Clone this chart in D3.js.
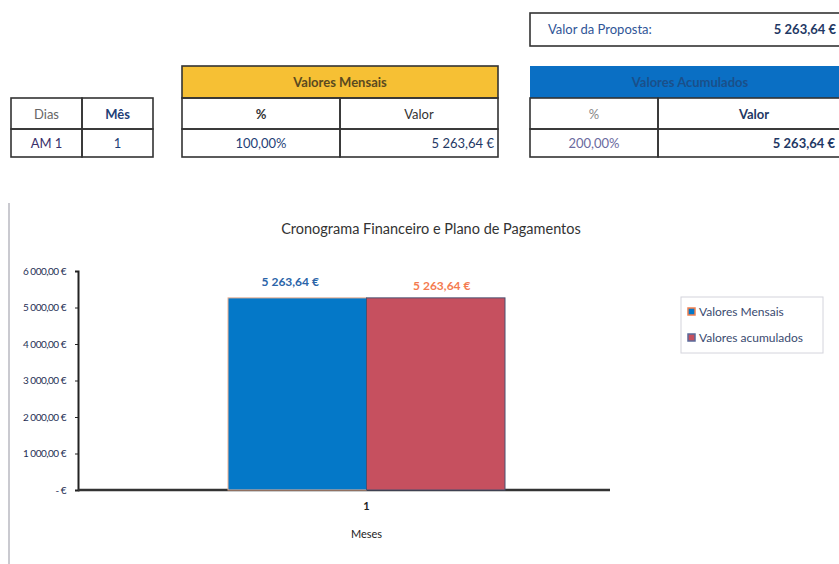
<!DOCTYPE html>
<html>
<head>
<meta charset="utf-8">
<script src="https://cdn.jsdelivr.net/npm/d3@7"></script>
<style>
  body { margin: 0; background: #fff; }
  svg text { font-family: Lato, "Open Sans", sans-serif; }
</style>
</head>
<body>
<div id="chart"></div>
<script>
// chart data
const meses = ["1"];
const series = ["Valores Mensais", "Valores acumulados"];
const valoresMensais = [5263.64];
const valoresAcumulados = [5263.64];
const yTicks = [0, 1000, 2000, 3000, 4000, 5000, 6000];

// table data
const propostaLabel = "Valor da Proposta:";
const propostaValor = "5 263,64 €";
const tabelaDias = [["Dias", "Mês"], ["AM  1", "1"]];
const tabelaMensais = [["%", "Valor"], ["100,00%", "5 263,64 €"]];
const tabelaAcum = [["%", "Valor"], ["200,00%", "5 263,64 €"]];

const W = 839, H = 564;
const svg = d3.select('#chart').append('svg')
    .attr('width', W)
    .attr('height', H);

const navy = '#1f3864';
const fmt = v => v === 0 ? '-   €' :
    d3.format(',.2f')(v).replace(/,/g, ' ').replace('.', ',') + ' €';

// ---------- top tables ----------
function cellBox(x, y, w, h) {
  svg.append('rect').attr('x', x).attr('y', y).attr('width', w).attr('height', h)
    .style('fill', 'none').style('stroke', '#333').style('stroke-width', 1.6);
}

// proposta box
cellBox(530, 13, 320, 33);
svg.append('text').attr('x', 548).attr('y', 34).text(propostaLabel)
  .style('font-size', '13px').style('fill', '#2f5597');
svg.append('text').attr('x', 836).attr('y', 34).attr('text-anchor', 'end').text(propostaValor)
  .style('font-size', '13px').style('font-weight', 'bold').style('fill', navy);

// section headers
svg.append('rect').attr('x', 182).attr('y', 66).attr('width', 316).attr('height', 32)
  .style('fill', '#f6c034').style('stroke', '#333').style('stroke-width', 1.6);
svg.append('text').attr('x', 340).attr('y', 87).attr('text-anchor', 'middle').text('Valores Mensais')
  .style('font-size', '13px').style('font-weight', 'bold').style('fill', '#5a4a20');
svg.append('rect').attr('x', 530).attr('y', 66).attr('width', 320).attr('height', 32)
  .style('fill', '#0a6fc4');
svg.append('text').attr('x', 690).attr('y', 87).attr('text-anchor', 'middle').text('Valores Acumulados')
  .style('font-size', '13px').style('font-weight', 'bold').style('fill', '#1a4f8a');

function table(rows, cols, opts) {
  const rowY = [98, 129, 157];
  rows.forEach((row, ri) => {
    row.forEach((txt, ci) => {
      const x = cols[ci], w = cols[ci + 1] - cols[ci];
      cellBox(x, rowY[ri], w, rowY[ri + 1] - rowY[ri]);
      const o = opts[ri][ci];
      svg.append('text')
        .attr('x', o.anchor === 'end' ? Math.min(x + w, 839) - 4 : x + w / 2)
        .attr('y', rowY[ri] + (rowY[ri + 1] - rowY[ri]) / 2 + 5)
        .attr('text-anchor', o.anchor || 'middle')
        .text(txt)
        .style('font-size', '13px')
        .style('font-weight', o.bold ? 'bold' : 'normal')
        .style('fill', o.color || navy);
    });
  });
}

table(tabelaDias, [11, 82, 153], [
  [{color: '#666'}, {bold: true, color: '#1f3f77'}],
  [{color: '#3a2f6a'}, {color: '#1f3f77'}]
]);
table(tabelaMensais, [182, 340, 498], [
  [{bold: true, color: '#333'}, {color: '#333'}],
  [{color: '#1f3f77'}, {anchor: 'end', color: navy}]
]);
table(tabelaAcum, [530, 658, 850], [
  [{color: '#888'}, {bold: true, color: navy}],
  [{color: '#6a6aa0'}, {anchor: 'end', bold: true, color: navy}]
]);

// ---------- chart ----------
// chart area border (left edge visible)
svg.append('line').attr('x1', 9).attr('x2', 9).attr('y1', 203).attr('y2', 564)
  .style('stroke', '#b8b8c0').style('stroke-width', 1.5);

svg.append('text').attr('x', 431).attr('y', 234).attr('text-anchor', 'middle')
  .text('Cronograma Financeiro e Plano de Pagamentos')
  .style('font-size', '14.5px').style('fill', '#333');

const plotL = 78, plotR = 610, plotT = 271, plotB = 490;

// the category band sits a bit right of the axis centre, as in the source chart
const x0 = d3.scaleBand().domain(meses).range([plotL, 655]).paddingInner(0).paddingOuter(0.5415);
const x1 = d3.scaleBand().domain(series).range([0, x0.bandwidth()]).padding(0);
const y = d3.scaleLinear().domain([0, 6000]).range([plotB, plotT]);

const yAxis = d3.axisLeft(y).tickValues(yTicks).tickFormat(fmt).tickSize(3).tickPadding(9);
const gy = svg.append('g').attr('transform', `translate(${plotL},0)`).call(yAxis);
gy.select('.domain').style('stroke', '#222').style('stroke-width', 2);
gy.selectAll('.tick line').style('stroke', '#222');
gy.selectAll('text').style('font-size', '10px').style('fill', '#1f2f55')
  .style('letter-spacing', '-0.5px')
  .style('font-family', 'Lato, "Open Sans", sans-serif');

const xAxis = d3.axisBottom(x0).tickSize(0).tickPadding(12);
const gx = svg.append('g').attr('transform', `translate(0,${plotB})`).call(xAxis);
gx.select('.domain').remove();
gx.append('line').attr('x1', plotL).attr('x2', plotR).attr('y1', 0).attr('y2', 0)
  .style('stroke', '#333').style('stroke-width', 2.5);
gx.selectAll('text').style('font-size', '11px').style('fill', '#222').style('font-weight', 'bold');

svg.append('text').attr('x', x0('1') + x0.bandwidth() / 2).attr('y', 538)
  .attr('text-anchor', 'middle').text('Meses')
  .style('font-size', '11px').style('fill', '#222');

const barData = [
  {serie: series[0], mes: meses[0], v: valoresMensais[0], fill: '#0478c8', stroke: '#f0b090', label: '#2a64a8'},
  {serie: series[1], mes: meses[0], v: valoresAcumulados[0], fill: '#c6505f', stroke: '#4a5070', label: '#f47b50'}
];

svg.selectAll('rect.bar').data(barData).enter().append('rect')
  .attr('class', 'bar')
  .attr('x', d => x0(d.mes) + x1(d.serie))
  .attr('y', d => y(d.v))
  .attr('width', x1.bandwidth())
  .attr('height', d => y(0) - y(d.v))
  .style('fill', d => d.fill)
  .style('stroke', d => d.stroke)
  .style('stroke-width', 1);

const labelOffset = [12, 8];
const labelShift = [-7, 6];
svg.selectAll('text.lbl').data(barData).enter().append('text')
  .attr('class', 'lbl')
  .attr('x', (d, i) => x0(d.mes) + x1(d.serie) + x1.bandwidth() / 2 + labelShift[i])
  .attr('y', (d, i) => y(d.v) - labelOffset[i])
  .attr('text-anchor', 'middle')
  .text(d => fmt(d.v))
  .style('font-size', '12px')
  .style('font-weight', 'bold')
  .style('fill', d => d.label);

// legend
const lg = svg.append('g').attr('transform', 'translate(681,297)');
lg.append('rect').attr('width', 142).attr('height', 56)
  .style('fill', '#fff').style('stroke', '#d4d4dc');
barData.forEach((d, i) => {
  lg.append('rect').attr('x', 7).attr('y', 11 + i * 26).attr('width', 7).attr('height', 7)
    .style('fill', d.fill).style('stroke', i === 0 ? '#f08050' : '#5a6a9a').style('stroke-width', 1.5);
  lg.append('text').attr('x', 18).attr('y', 19 + i * 26).text(d.serie)
    .style('font-size', '12px').style('fill', '#3a4a70');
});
</script>
</body>
</html>
